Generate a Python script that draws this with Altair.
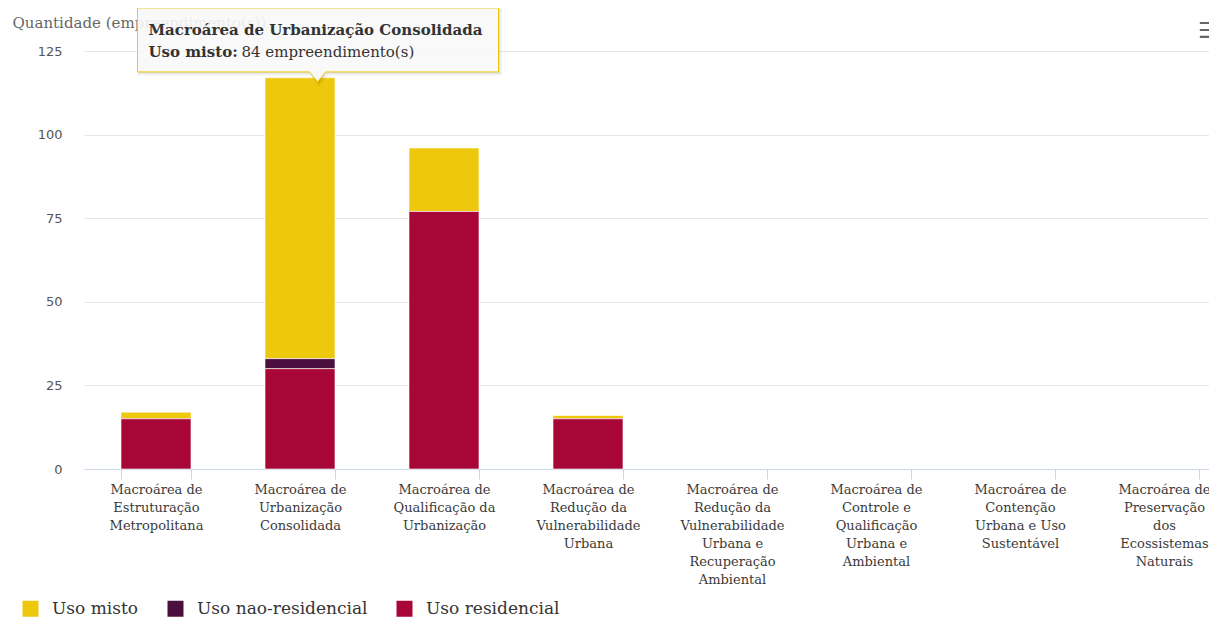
import json
import altair as alt
import pandas as pd

# ---------------- data ----------------
categories = [
    "Macroárea de Estruturação Metropolitana",
    "Macroárea de Urbanização Consolidada",
    "Macroárea de Qualificação da Urbanização",
    "Macroárea de Redução da Vulnerabilidade Urbana",
    "Macroárea de Redução da Vulnerabilidade Urbana e Recuperação Ambiental",
    "Macroárea de Controle e Qualificação Urbana e Ambiental",
    "Macroárea de Contenção Urbana e Uso Sustentável",
    "Macroárea de Preservação dos Ecossistemas Naturais",
]
label_lines = [
    ["Macroárea de", "Estruturação", "Metropolitana"],
    ["Macroárea de", "Urbanização", "Consolidada"],
    ["Macroárea de", "Qualificação da", "Urbanização"],
    ["Macroárea de", "Redução da", "Vulnerabilidade", "Urbana"],
    ["Macroárea de", "Redução da", "Vulnerabilidade", "Urbana e", "Recuperação", "Ambiental"],
    ["Macroárea de", "Controle e", "Qualificação", "Urbana e", "Ambiental"],
    ["Macroárea de", "Contenção", "Urbana e Uso", "Sustentável"],
    ["Macroárea de", "Preservação", "dos", "Ecossistemas", "Naturais"],
]
series = ["Uso misto", "Uso nao-residencial", "Uso residencial"]
uso_misto = [2, 84, 19, 1, 0, 0, 0, 0]
uso_nao_residencial = [0, 3, 0, 0, 0, 0, 0, 0]
uso_residencial = [15, 30, 77, 15, 0, 0, 0, 0]
series_colors = ["#EDC80C", "#4B0F3F", "#A80636"]
stack_order = [3, 2, 1]  # residencial at the bottom
y_ticks = [0, 25, 50, 75, 100, 125]
y_title = "Quantidade (empreendimento(s))"

tooltip_category = categories[1]
tooltip_series = "Uso misto"
tooltip_value = uso_misto[1]
unit = "empreendimento(s)"

# ---------------- tables ----------------
rows = []
for s, vals, o in zip(series, [uso_misto, uso_nao_residencial, uso_residencial], stack_order):
    for c, v in zip(categories, vals):
        if v > 0:
            rows.append({"categoria": c, "uso": s, "quantidade": v, "ordem": o})
df = pd.DataFrame(rows)

totals = [a + b + c for a, b, c in zip(uso_misto, uso_nao_residencial, uso_residencial)]
tip_df = pd.DataFrame([{
    "categoria": tooltip_category,
    "quantidade": totals[categories.index(tooltip_category)],
    "t1": tooltip_category,
    "t2a": f"{tooltip_series}:",
    "t2b": f"{tooltip_value} {unit}",
}])

SERIF = "DejaVu Serif"
SANS = "DejaVu Sans"

label_map = json.dumps(dict(zip(categories, label_lines)), ensure_ascii=False)

x_scale = alt.Scale(domain=categories, range=[0, 1152], paddingInner=0.514, paddingOuter=0.257)
y_scale = alt.Scale(domain=[0, 125], nice=False)

x_axis = alt.Axis(
    title=None, labelAngle=0, labelExpr=f"{label_map}[datum.label]",
    labelFont=SERIF, labelFontSize=13, labelColor="#3a3a3a", labelLineHeight=18,
    labelBaseline="top", labelPadding=4, labelLimit=200,
    domainColor="#ccd6eb", tickColor="#ccd6eb", tickSize=10, tickBand="extent",
    grid=False,
)
y_axis = alt.Axis(
    values=y_ticks, title=y_title, titleAngle=0, titleAlign="left",
    titleBaseline="middle", titleX=-72, titleY=-29,
    titleFont=SERIF, titleFontSize=15, titleFontWeight="normal", titleColor="#666666",
    labelFont=SANS, labelFontSize=13, labelColor="#555555", labelPadding=22,
    ticks=False, domain=False, grid=True, gridColor="#e6e6e6", gridWidth=1,
)

x_enc = alt.X("categoria:N", scale=x_scale, sort=categories, axis=x_axis)
y_bar = alt.Y("quantidade:Q", stack="zero", scale=y_scale, axis=y_axis)

bars = alt.Chart(df).mark_bar(stroke="white", strokeWidth=1, strokeOpacity=0.6).encode(
    x=x_enc,
    y=y_bar,
    color=alt.Color(
        "uso:N",
        scale=alt.Scale(domain=series, range=series_colors),
        legend=alt.Legend(
            orient="none", legendX=-62, legendY=549, direction="horizontal", title=None,
            symbolType="square", symbolSize=256, symbolStrokeWidth=0,
            labelFont=SERIF, labelFontSize=17, labelColor="#333333",
            labelOffset=13, columnPadding=28, padding=0, labelLimit=400,
        ),
    ),
    order=alt.Order("ordem:Q", sort="ascending"),
)

# ---------------- tooltip annotation (anchored to the hovered bar) ----------------
S = 200.0  # path unit -> pixels
L, R, T, B = -162.5, 198.5, -69.8, -5.8
ax, aw, tip_y = 17.5, 8.0, 4.2
def u(v):
    return f"{v / S:.4f}"
tip_path = (
    f"M{u(L)},{u(T)} L{u(R)},{u(T)} L{u(R)},{u(B)} L{u(ax + aw)},{u(B)} "
    f"L{u(ax)},{u(tip_y)} L{u(ax - aw)},{u(B)} L{u(L)},{u(B)} Z"
)
tip_size = (2 * S) ** 2

tip_enc = dict(
    x=x_enc,
    y=alt.Y("quantidade:Q", scale=y_scale, axis=y_axis),
)
tip_base = alt.Chart(tip_df)
shadow = tip_base.mark_point(
    shape=tip_path, size=tip_size, filled=True, fill="#000000", fillOpacity=0.08,
    stroke="#000000", strokeOpacity=0.05, strokeWidth=4, xOffset=1.5, yOffset=1.5,
).encode(**tip_enc)
box = tip_base.mark_point(
    shape=tip_path, size=tip_size, filled=True, fill="#fbfbfb", fillOpacity=0.9,
    stroke="#EDC80C", strokeWidth=1, opacity=1,
).encode(**tip_enc)
line1 = tip_base.mark_text(
    align="left", baseline="middle", dx=-151.5, dy=-47.8,
    font=SERIF, fontSize=15, fontWeight="bold", color="#333333",
).encode(text="t1:N", **tip_enc)
line2a = tip_base.mark_text(
    align="left", baseline="middle", dx=-151.5, dy=-25.8,
    font=SERIF, fontSize=15, fontWeight="bold", color="#333333",
).encode(text="t2a:N", **tip_enc)
line2b = tip_base.mark_text(
    align="left", baseline="middle", dx=-58.5, dy=-25.8,
    font=SERIF, fontSize=15, fontWeight="normal", color="#333333",
).encode(text="t2b:N", **tip_enc)

menu = alt.Chart(pd.DataFrame({"m": ["☰"]})).mark_text(
    font=SANS, fontSize=22, fontWeight="bold", color="#666666", align="left", baseline="middle",
).encode(text="m:N", x=alt.value(1114), y=alt.value(-20))

chart = alt.layer(bars, shadow, box, line1, line2a, line2b, menu).properties(
    width=1125, height=418,
    autosize=alt.AutoSizeParams(type="none"),
    padding={"left": 76, "top": 43, "right": 0, "bottom": 150},
    background="white",
).configure_view(stroke=None)

chart.save("out.html", embed_options={"renderer": "svg", "actions": False})
